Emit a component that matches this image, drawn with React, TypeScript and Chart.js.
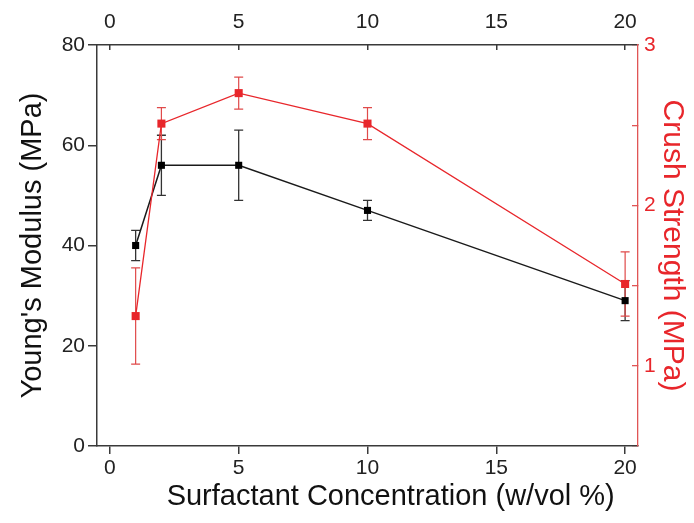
import { useEffect, useRef } from 'react';
import { Chart, registerables } from 'chart.js';

Chart.register(...registerables);

const concentrations = [1, 2, 5, 10, 20];
const youngsModulus = [40, 56, 56, 47, 29];
const youngsModulusError = [3, 6, 7, 2, 4];
const crushStrength = [1.31, 2.51, 2.7, 2.51, 1.51];
const crushStrengthError = [0.3, 0.1, 0.1, 0.1, 0.2];

const xTickValues = [0, 5, 10, 15, 20];
const modulusTickValues = [0, 20, 40, 60, 80];
const crushTickValues = [0.5, 1, 1.5, 2, 2.5, 3];
const crushLabelValues = [1, 2, 3];

const xTitle = 'Surfactant Concentration (w/vol %)';

const BLACK = '#1a1a1a';
const AXIS = '#3a3a3a';
const RED = '#e8262b';
const FONT = '"Liberation Sans", Arial, sans-serif';

const errorBarPlugin = {
  id: 'errorBars',
  beforeDatasetsDraw(chart: any) {
    const ctx = chart.ctx;
    const xs = chart.scales.x;
    const draw = (yScale: any, vals: number[], errs: number[], color: string, cap: number, lw: number) => {
      ctx.save();
      ctx.strokeStyle = color;
      ctx.lineWidth = lw;
      vals.forEach((v, i) => {
        const px = xs.getPixelForValue(concentrations[i]);
        const top = yScale.getPixelForValue(v + errs[i]);
        const bot = yScale.getPixelForValue(v - errs[i]);
        ctx.beginPath();
        ctx.moveTo(px, top);
        ctx.lineTo(px, bot);
        ctx.moveTo(px - cap, top);
        ctx.lineTo(px + cap, top);
        ctx.moveTo(px - cap, bot);
        ctx.lineTo(px + cap, bot);
        ctx.stroke();
      });
      ctx.restore();
    };
    draw(chart.scales.y, youngsModulus, youngsModulusError, '#333', 4.5, 1.3);
    draw(chart.scales.y1, crushStrength, crushStrengthError, '#e04a4a', 4.5, 1.2);
  },
};

// bottom axis title, placed slightly right of the axis centre as in the original figure
const bottomTitlePlugin = {
  id: 'bottomTitle',
  afterDraw(chart: any) {
    const ctx = chart.ctx;
    const xs = chart.scales.x;
    ctx.save();
    ctx.font = `29px ${FONT}`;
    ctx.fillStyle = '#111';
    ctx.textAlign = 'center';
    ctx.textBaseline = 'middle';
    ctx.fillText(xTitle, xs.getPixelForValue(10.9), xs.bottom - 26);
    ctx.restore();
  },
};

export default function App() {
  const ref = useRef<HTMLCanvasElement>(null);
  useEffect(() => {
    if (!ref.current) return;
    const tickFont = { family: FONT, size: 21 };
    const titleFont = { family: FONT, size: 29 };
    const rightTitleFont = { family: FONT, size: 30 };
    const chart = new Chart(ref.current, {
      type: 'line',
      data: {
        datasets: [
          {
            label: 'Crush Strength',
            data: concentrations.map((x, i) => ({ x, y: crushStrength[i] })),
            xAxisID: 'x',
            yAxisID: 'y1',
            borderColor: RED,
            backgroundColor: RED,
            borderWidth: 1.3,
            pointStyle: 'rect',
            pointRadius: 5.7,
            pointBorderWidth: 0,
            pointBackgroundColor: RED,
            tension: 0,
            order: 0,
          },
          {
            label: "Young's Modulus",
            data: concentrations.map((x, i) => ({ x, y: youngsModulus[i] })),
            xAxisID: 'x',
            yAxisID: 'y',
            borderColor: BLACK,
            backgroundColor: BLACK,
            borderWidth: 1.5,
            pointStyle: 'rect',
            pointRadius: 5,
            pointBorderWidth: 0,
            pointBackgroundColor: '#000',
            tension: 0,
            order: 1,
          },
        ],
      },
      options: {
        animation: false,
        responsive: false,
        layout: { padding: 0 },
        plugins: { legend: { display: false }, tooltip: { enabled: false } },
        scales: {
          x: {
            type: 'linear',
            position: 'bottom',
            min: -0.5,
            max: 20.5,
            afterBuildTicks: (s: any) => {
              s.ticks = xTickValues.map((value) => ({ value }));
            },
            afterFit: (s: any) => {
              s.height = 77;
            },
            grid: { drawOnChartArea: false, drawTicks: true, tickLength: 8, color: AXIS, lineWidth: 1.5 },
            border: { display: true, color: AXIS, width: 1.5 },
            ticks: { color: '#222', font: tickFont, padding: 2, maxRotation: 0, autoSkip: false },
            title: { display: false },
          },
          x2: {
            type: 'linear',
            position: 'top',
            min: -0.5,
            max: 20.5,
            afterBuildTicks: (s: any) => {
              s.ticks = xTickValues.map((value) => ({ value }));
            },
            afterFit: (s: any) => {
              s.height = 45;
            },
            grid: { drawOnChartArea: false, drawTicks: true, tickLength: -5, color: AXIS, lineWidth: 1.5 },
            border: { display: true, color: AXIS, width: 1.5 },
            ticks: { color: '#222', font: tickFont, padding: 15, maxRotation: 0, autoSkip: false },
          },
          y: {
            type: 'linear',
            position: 'left',
            min: 0,
            max: 80,
            afterBuildTicks: (s: any) => {
              s.ticks = modulusTickValues.map((value) => ({ value }));
            },
            afterFit: (s: any) => {
              s.width = 97;
            },
            grid: { drawOnChartArea: false, drawTicks: true, tickLength: 9, color: AXIS, lineWidth: 1.5 },
            border: { display: true, color: AXIS, width: 1.5 },
            ticks: { color: '#222', font: tickFont, padding: 3, autoSkip: false },
            title: {
              display: true,
              text: "Young's Modulus (MPa)",
              color: '#111',
              font: titleFont,
              padding: { top: 16, bottom: 0 },
            },
          },
          y1: {
            type: 'linear',
            position: 'right',
            min: 0.5,
            max: 3,
            afterBuildTicks: (s: any) => {
              s.ticks = crushTickValues.map((value) => ({ value }));
            },
            afterFit: (s: any) => {
              s.width = 56;
            },
            grid: { drawOnChartArea: false, drawTicks: true, tickLength: -6, color: '#e05555', lineWidth: 1.3 },
            border: { display: true, color: '#e05555', width: 1.3 },
            ticks: {
              color: RED,
              font: tickFont,
              padding: 12,
              autoSkip: false,
              callback: (v: any) => (crushLabelValues.includes(Number(v)) ? String(v) : ''),
            },
            title: {
              display: true,
              text: 'Crush Strength (MPa)',
              color: RED,
              font: rightTitleFont,
              padding: { top: 4, bottom: 0 },
            },
          },
        },
      },
      plugins: [errorBarPlugin, bottomTitlePlugin],
    } as any);
    return () => chart.destroy();
  }, []);
  return (
    <div style={{ position: 'fixed', left: 0, top: 0, width: 694, height: 523, background: '#fff' }}>
      <canvas ref={ref} width={694} height={523} style={{ width: 694, height: 523, display: 'block' }} />
    </div>
  );
}
